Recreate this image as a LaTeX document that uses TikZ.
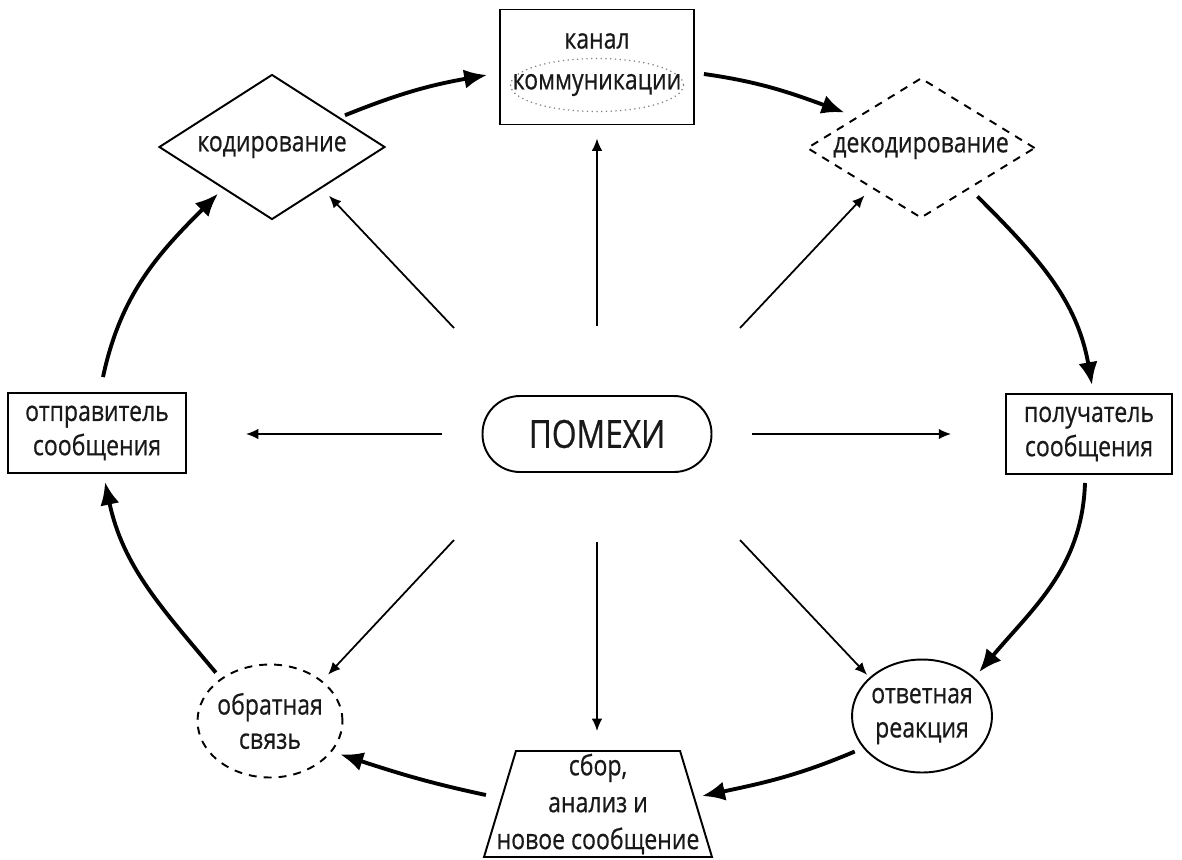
\documentclass[tikz,border=0pt]{standalone}
\usepackage{fontspec}
\setmainfont{Open Sans}[FakeStretch=0.82, FakeBold=0.6]
\usetikzlibrary{arrows.meta}
\usetikzlibrary{shapes.geometric}

\tikzset{
  box/.style={draw, line width=1.1pt, inner sep=0pt, align=center},
  flow/.style={line width=2.2pt, -{Latex[length=13pt,width=11pt]}},
  hit/.style={line width=1pt, -{Latex[length=7pt,width=6pt]}},
  dashbox/.style={box, dash pattern=on 4.5pt off 4pt}
}

\begin{document}
\begin{tikzpicture}[x=0.02cm, y=0.02cm, font=\fontsize{16}{19.5}\selectfont, text=black!90]
      \useasboundingbox (0,0) rectangle (1182,-859);

      \node[box, minimum width=3.88cm, minimum height=2.3cm] (channel) at (597,-67) {};
      \node (chtitle) at (597,-41) {канал};
      \node[draw=gray, dotted, line width=0.7pt, ellipse, inner sep=0pt,
            minimum width=3.46cm, minimum height=1.06cm,
            label={center:коммуникации}] (comm) at (597,-85) {};

      \node[box, diamond, aspect=1.6, minimum width=4.52cm, minimum height=2.9cm] (coder) at (272,-147) {кодирование};
      \node[dashbox, diamond, aspect=1.6, minimum width=4.56cm, minimum height=2.8cm] (decoder) at (921,-148) {декодирование};

      \node[box, minimum width=3.56cm, minimum height=1.6cm] (sender) at (97,-433) {отправитель\\сообщения};
      \node[box, minimum width=3.32cm, minimum height=1.6cm] (receiver) at (1089,-434) {получатель\\сообщения};
      \node[box, rounded corners=0.75cm, minimum width=4.58cm, minimum height=1.52cm,
            font=\fontsize{22}{26}\selectfont] (noise) at (597,-434) {ПОМЕХИ};

      \node[box, ellipse, minimum width=2.8cm, minimum height=2.26cm,
            label={[align=center]center:{ответная\\реакция}}] (response) at (922,-716) {};
      \node[dashbox, ellipse, minimum width=2.9cm, minimum height=2.26cm,
            label={[align=center]center:{обратная\\связь}}] (feedback) at (270,-721) {};

      \node[box, trapezium, inner sep=3pt, trapezium left angle=79, trapezium right angle=79, trapezium stretches=true,
            minimum width=4.56cm, minimum height=2.12cm,
            label={[align=center, font=\fontsize{16}{21}\selectfont]center:{сбор,\\анализ и\\новое сообщение}}] (collect) at (598,-804) {};

      % the cycle
      \draw[flow] ([shift={(6,15)}]sender.north) to[out=78,in=225] ([shift={(3,-10)}]coder.south west);
      \draw[flow] ([shift={(16,-5)}]coder.north east) to[out=22,in=190] ([shift={(-12,-8)}]channel.west);
      \draw[flow] ([shift={(9,-7)}]channel.east) to[out=-8,in=160] ([shift={(-19,0)}]decoder.north west);
      \draw[flow] ([shift={(-1,-13)}]decoder.south east) to[out=-45,in=100] ([shift={(3,8)}]receiver.north);
      \draw[flow] ([shift={(-4,-8)}]receiver.south) to[out=-92,in=50] ([shift={(6,4)}]response.38);
      \draw[flow] ([shift={(-8,-4)}]response.208) to[out=203,in=12] ([shift={(5,8)}]collect.east);
      \draw[flow] ([shift={(-13,9)}]collect.west) to[out=168,in=-18] ([shift={(8,-3)}]feedback.-26);
      \draw[flow] ([shift={(-6,5)}]feedback.138) to[out=130,in=-78] ([shift={(8,-8)}]sender.south);

      % noise spreads out
      \foreach \nm/\dx/\dy in {nw/-143/106, n/0/108, ne/143/106, w/-155/0,
                               e/155/0, sw/-143/-106, s/0/-108, se/143/-106}
        \coordinate (noise-\nm) at ([shift={(\dx,\dy)}]noise.center);

      \draw[hit] (noise-nw) -- ([shift={(0,-12)}]coder.south east);
      \draw[hit] (noise-n) -- ([shift={(0,-13)}]channel.south);
      \draw[hit] (noise-ne) -- ([shift={(1,-12)}]decoder.south west);
      \draw[hit] (noise-w) -- ([shift={(59,-1)}]sender.east);
      \draw[hit] (noise-e) -- ([shift={(-54,0)}]receiver.west);
      \draw[hit] (noise-sw) -- ([shift={(7,5)}]feedback.39);
      \draw[hit] (noise-s) -- ([shift={(-1,19)}]collect.north);
      \draw[hit] (noise-se) -- ([shift={(-3,2)}]response.143);
    \end{tikzpicture}
\end{document}
